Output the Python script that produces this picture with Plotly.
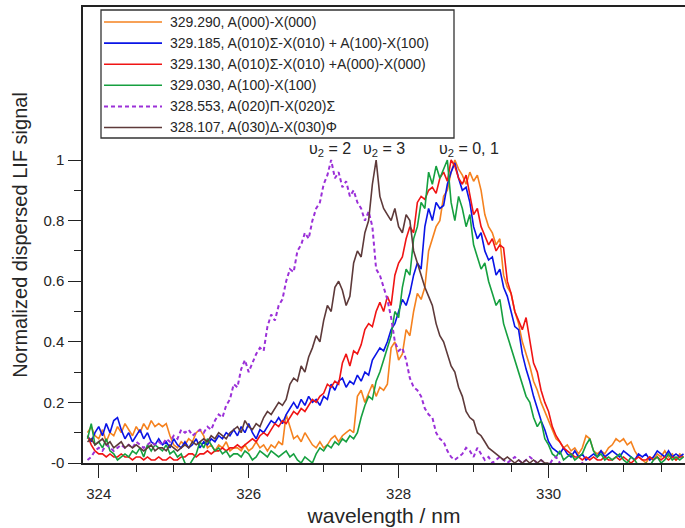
import plotly.graph_objects as go

# wavelength grid (nm), 0.05 nm steps from 323.85 to 331.80
wavelength = [round(323.85 + 0.05 * i, 2) for i in range(160)]

orange_329290 = [
    0.10, 0.12, 0.09, 0.08, 0.11, 0.07, 0.10, 0.09, 0.12, 0.10, 0.13, 0.11, 0.09, 0.12, 0.10, 0.13, 0.11, 0.14, 0.12, 0.13,
    0.12, 0.13, 0.09, 0.06, 0.05, 0.07, 0.06, 0.08, 0.07, 0.10, 0.11, 0.09, 0.05, 0.06, 0.04, 0.06, 0.05, 0.07, 0.04, 0.05,
    0.05, 0.04, 0.06, 0.04, 0.05, 0.07, 0.05, 0.06, 0.04, 0.06, 0.05, 0.07, 0.06, 0.16, 0.12, 0.08, 0.09, 0.07, 0.10, 0.08,
    0.06, 0.05, 0.07, 0.05, 0.06, 0.08, 0.09, 0.07, 0.09, 0.10, 0.11, 0.10, 0.22, 0.24, 0.20, 0.23, 0.26, 0.22, 0.25, 0.24,
    0.26, 0.38, 0.40, 0.34, 0.36, 0.44, 0.42, 0.50, 0.56, 0.54, 0.58, 0.70, 0.74, 0.78, 0.80, 0.88, 0.90, 0.96, 1.00, 0.97,
    0.95, 0.92, 0.96, 0.93, 0.95, 0.90, 0.82, 0.78, 0.76, 0.72, 0.74, 0.62, 0.58, 0.56, 0.50, 0.46, 0.40, 0.36, 0.32, 0.27,
    0.24, 0.20, 0.17, 0.14, 0.11, 0.08, 0.07, 0.05, 0.06, 0.04, 0.05, 0.03, 0.05, 0.09, 0.08, 0.04, 0.03, 0.04, 0.03, 0.05,
    0.06, 0.08, 0.07, 0.08, 0.06, 0.07, 0.04, 0.02, 0.01, 0.00, 0.02, 0.01, 0.03, 0.02, 0.04, 0.02, 0.03, 0.01, 0.03, 0.02,
]

blue_329185 = [
    0.09, 0.07, 0.10, 0.12, 0.09, 0.13, 0.10, 0.14, 0.15, 0.11, 0.08, 0.10, 0.07, 0.09, 0.11, 0.08, 0.10, 0.07, 0.06, 0.08,
    0.06, 0.07, 0.05, 0.08, 0.06, 0.05, 0.07, 0.05, 0.06, 0.08, 0.05, 0.07, 0.06, 0.08, 0.07, 0.09, 0.08, 0.10, 0.09, 0.11,
    0.09, 0.12, 0.10, 0.13, 0.10, 0.08, 0.11, 0.10, 0.12, 0.14, 0.13, 0.15, 0.13, 0.16, 0.18, 0.20, 0.18, 0.21, 0.19, 0.22,
    0.20, 0.21, 0.19, 0.22, 0.21, 0.26, 0.24, 0.27, 0.28, 0.25, 0.27, 0.26, 0.29, 0.27, 0.30, 0.29, 0.34, 0.36, 0.38, 0.37,
    0.40, 0.44, 0.46, 0.50, 0.54, 0.52, 0.56, 0.62, 0.66, 0.64, 0.78, 0.84, 0.80, 0.86, 0.84, 0.85, 0.92, 0.96, 0.99, 0.94,
    0.90, 0.91, 0.86, 0.78, 0.74, 0.76, 0.70, 0.67, 0.68, 0.62, 0.64, 0.58, 0.55, 0.50, 0.45, 0.44, 0.36, 0.31, 0.27, 0.22,
    0.18, 0.14, 0.11, 0.07, 0.05, 0.04, 0.03, 0.05, 0.03, 0.02, 0.04, 0.02, 0.03, 0.01, 0.02, 0.03, 0.02, 0.04, 0.02, 0.03,
    0.04, 0.03, 0.02, 0.04, 0.03, 0.02, 0.01, 0.03, 0.02, 0.03, 0.01, 0.02, 0.04, 0.03, 0.02, 0.04, 0.02, 0.03, 0.02, 0.03,
]

red_329130 = [
    0.09, 0.06, 0.04, 0.03, 0.03, 0.02, 0.03, 0.02, 0.02, 0.03, 0.02, 0.02, 0.01, 0.02, 0.02, 0.01, 0.02, 0.01, 0.01, 0.02,
    0.01, 0.01, 0.02, 0.01, 0.01, 0.02, 0.02, 0.03, 0.03, 0.02, 0.03, 0.03, 0.04, 0.03, 0.04, 0.04, 0.05, 0.04, 0.05, 0.05,
    0.06, 0.05, 0.06, 0.07, 0.08, 0.07, 0.09, 0.10, 0.09, 0.11, 0.13, 0.12, 0.14, 0.13, 0.15, 0.17, 0.16, 0.18, 0.17, 0.19,
    0.21, 0.20, 0.22, 0.23, 0.26, 0.25, 0.27, 0.26, 0.33, 0.36, 0.32, 0.37, 0.36, 0.39, 0.44, 0.46, 0.45, 0.50, 0.53, 0.50,
    0.55, 0.52, 0.62, 0.66, 0.68, 0.74, 0.78, 0.76, 0.86, 0.88, 0.87, 0.90, 0.91, 0.89, 0.94, 0.96, 0.93, 1.00, 0.98, 0.94,
    0.92, 0.95, 0.88, 0.82, 0.84, 0.78, 0.75, 0.72, 0.74, 0.70, 0.72, 0.71, 0.60, 0.56, 0.50, 0.47, 0.44, 0.48, 0.40, 0.33,
    0.30, 0.24, 0.20, 0.17, 0.12, 0.09, 0.07, 0.05, 0.04, 0.03, 0.02, 0.02, 0.01, 0.02, 0.01, 0.02, 0.01, 0.01, 0.02, 0.01,
    0.01, 0.02, 0.01, 0.02, 0.01, 0.00, 0.01, 0.02, 0.01, 0.01, 0.02, 0.01, 0.02, 0.01, 0.02, 0.01, 0.02, 0.01, 0.02, 0.02,
]

green_329030 = [
    0.08, 0.13, 0.06, 0.07, 0.05, 0.08, 0.04, 0.03, 0.01, 0.02, 0.03, 0.02, 0.04, 0.03, 0.05, 0.02, 0.06, 0.04, 0.06, 0.05,
    0.04, 0.06, 0.03, 0.04, 0.02, 0.03, 0.00, -0.01, 0.01, 0.03, 0.07, 0.05, 0.08, 0.06, 0.04, 0.05, 0.03, 0.04, 0.02, 0.03,
    0.03, 0.02, 0.04, 0.03, 0.01, 0.02, 0.04, 0.03, 0.02, 0.04, 0.03, 0.02, 0.03, 0.04, 0.02, 0.03, 0.01, 0.00, 0.02, 0.01,
    0.00, 0.03, 0.05, 0.04, 0.06, 0.05, 0.07, 0.06, 0.08, 0.07, 0.09, 0.08, 0.10, 0.15, 0.19, 0.22, 0.21, 0.27, 0.30, 0.34,
    0.38, 0.42, 0.50, 0.48, 0.58, 0.64, 0.62, 0.74, 0.78, 0.86, 0.84, 0.96, 0.92, 0.98, 0.94, 0.97, 1.00, 0.86, 0.80, 0.88,
    0.84, 0.78, 0.82, 0.72, 0.68, 0.64, 0.66, 0.60, 0.56, 0.52, 0.54, 0.46, 0.42, 0.38, 0.34, 0.30, 0.26, 0.22, 0.20, 0.15,
    0.12, 0.14, 0.08, 0.06, 0.03, 0.02, 0.04, 0.01, 0.02, 0.03, 0.01, 0.02, 0.03, 0.06, 0.08, 0.04, 0.02, 0.03, 0.01, 0.02,
    0.01, 0.02, 0.03, 0.01, 0.00, 0.02, 0.01, -0.01, -0.01, 0.00, -0.01, 0.01, 0.02, 0.00, 0.01, 0.03, 0.01, 0.02, 0.01, 0.02,
]

purple_328553 = [
    0.01, 0.02, 0.04, 0.05, 0.04, 0.06, 0.05, 0.04, 0.05, 0.06, 0.05, 0.06, 0.05, 0.07, 0.06, 0.05, 0.06, 0.07, 0.06, 0.07,
    0.06, 0.08, 0.07, 0.09, 0.08, 0.11, 0.10, 0.11, 0.09, 0.10, 0.11, 0.10, 0.12, 0.11, 0.14, 0.16, 0.15, 0.19, 0.21, 0.26,
    0.25, 0.31, 0.34, 0.30, 0.33, 0.36, 0.38, 0.37, 0.45, 0.49, 0.47, 0.52, 0.54, 0.60, 0.64, 0.63, 0.70, 0.72, 0.76, 0.74,
    0.80, 0.84, 0.86, 0.92, 0.95, 1.00, 0.94, 0.96, 0.91, 0.93, 0.88, 0.90, 0.86, 0.84, 0.80, 0.83, 0.78, 0.64, 0.62, 0.58,
    0.54, 0.48, 0.40, 0.37, 0.38, 0.34, 0.28, 0.25, 0.24, 0.22, 0.18, 0.16, 0.15, 0.10, 0.08, 0.07, 0.04, 0.02, 0.01, 0.02,
    0.03, 0.05, 0.04, 0.02, 0.05, 0.03, 0.01, 0.02, 0.00, 0.01, 0.02, 0.01, 0.00, 0.01, 0.02, 0.01, 0.00, 0.01, 0.02, 0.01,
    0.00, 0.01, 0.00, -0.01, 0.01, 0.02, 0.00, -0.01, -0.02, -0.01, -0.02, -0.01, 0.00, -0.01,
]

brown_328107 = [
    0.07, 0.08, 0.06, 0.07, 0.08, 0.06, 0.07, 0.05, 0.06, 0.07, 0.05, 0.06, 0.05, 0.06, 0.05, 0.04, 0.05, 0.06, 0.04, 0.05,
    0.05, 0.04, 0.06, 0.05, 0.04, 0.05, 0.06, 0.05, 0.07, 0.06, 0.07, 0.08, 0.07, 0.09, 0.08, 0.10, 0.09, 0.08, 0.10, 0.11,
    0.12, 0.10, 0.14, 0.12, 0.11, 0.13, 0.12, 0.15, 0.17, 0.16, 0.18, 0.20, 0.19, 0.21, 0.26, 0.28, 0.27, 0.32, 0.30, 0.35,
    0.38, 0.42, 0.40, 0.47, 0.52, 0.50, 0.58, 0.60, 0.57, 0.52, 0.55, 0.66, 0.70, 0.68, 0.76, 0.80, 0.92, 1.00, 0.88, 0.84,
    0.82, 0.80, 0.84, 0.78, 0.76, 0.82, 0.80, 0.70, 0.66, 0.62, 0.58, 0.55, 0.52, 0.46, 0.42, 0.40, 0.36, 0.32, 0.30, 0.25,
    0.22, 0.17, 0.15, 0.14, 0.10, 0.09, 0.07, 0.05, 0.04, 0.03, 0.02, 0.01, 0.02, 0.01, 0.00, 0.01, 0.00, 0.01, 0.00, 0.01,
    0.00, 0.01, 0.00, 0.00,
]

series_names = [
    "329.290, A(000)-X(000)",
    "329.185, A(010)Σ-X(010) + A(100)-X(100)",
    "329.130, A(010)Σ-X(010) +A(000)-X(000)",
    "329.030, A(100)-X(100)",
    "328.553, A(020)Π-X(020)Σ",
    "328.107, A(030)Δ-X(030)Φ",
]
series_values = [orange_329290, blue_329185, red_329130, green_329030, purple_328553, brown_328107]
series_colors = ["#F5821F", "#0A14E6", "#F01414", "#16A040", "#9B30D8", "#5E3A3A"]
series_dash = ["solid", "solid", "solid", "solid", "4px,3px", "solid"]
series_width = [1.6, 1.6, 1.6, 1.6, 2.0, 1.6]

peak_labels = ["υ<sub>2</sub> = 2", "υ<sub>2</sub> = 3", "υ<sub>2</sub> = 0, 1"]
peak_label_x = [327.08, 327.80, 328.94]

x_major = [324, 326, 328, 330]
x_minor = [324.5, 325, 325.5, 326.5, 327, 327.5, 328.5, 329, 329.5, 330.5, 331, 331.5]
y_major = [0, 0.2, 0.4, 0.6, 0.8, 1.0]
y_major_text = ["-0", "0.2", "0.4", "0.6", "0.8", "1"]
y_minor = [0.1, 0.3, 0.5, 0.7, 0.9]

FONT = "Liberation Sans, Arial, sans-serif"
TXT = "#262626"

# figure geometry (pixels)
W, H = 685, 528
ML, MR, MT, MB = 83, 0, 7, 65
PW, PH = W - ML - MR, H - MT - MB


def px(x):
    return (x - ML) / PW


def py(y):
    return (H - MB - y) / PH


fig = go.Figure()
for name, vals, col, dash, lw in zip(series_names, series_values, series_colors, series_dash, series_width):
    fig.add_trace(go.Scatter(
        x=wavelength[:len(vals)], y=vals, mode="lines", name=name,
        line=dict(color=col, width=lw, dash=dash), showlegend=False,
    ))

# peak labels
for txt, xv in zip(peak_labels, peak_label_x):
    fig.add_annotation(x=xv, y=1.0, xref="x", yref="y", yshift=11, text=txt,
                       showarrow=False, font=dict(size=16, color=TXT, family=FONT),
                       xanchor="center", yanchor="middle")

# legend box drawn as in the original (boxed, long line samples)
LEG_L, LEG_R, LEG_T, LEG_B = 101, 454, 10, 138
fig.add_shape(type="rect", xref="paper", yref="paper",
              x0=px(LEG_L), x1=px(LEG_R), y0=py(LEG_B), y1=py(LEG_T),
              line=dict(color="#333", width=1.3), fillcolor="white", layer="above")
for i, (name, col, dash, lw) in enumerate(zip(series_names, series_colors, series_dash, series_width)):
    yc = 22 + 21.1 * i
    fig.add_shape(type="line", xref="paper", yref="paper",
                  x0=px(104), x1=px(162), y0=py(yc), y1=py(yc),
                  line=dict(color=col, width=lw, dash=dash), layer="above")
    fig.add_annotation(x=px(168), y=py(yc), xref="paper", yref="paper", text=name,
                       showarrow=False, xanchor="left", yanchor="middle",
                       font=dict(size=14, color=TXT, family=FONT))

fig.update_layout(
    width=W, height=H,
    margin=dict(l=ML, r=MR, t=MT, b=MB, autoexpand=False),
    plot_bgcolor="white", paper_bgcolor="white",
    font=dict(family=FONT, color=TXT),
    showlegend=False,
    xaxis=dict(
        range=[323.79, 331.82], automargin=False,
        showline=True, linecolor="#222", linewidth=1.5, mirror=True,
        showgrid=False, zeroline=False,
        ticks="outside", ticklen=13, tickwidth=1.3, tickcolor="#222",
        tickvals=x_major, ticktext=[str(v) for v in x_major],
        tickfont=dict(size=15, color=TXT, family=FONT), ticklabelstandoff=3,
        minor=dict(tickvals=x_minor, ticks="outside", ticklen=7, tickwidth=1.2, tickcolor="#222", showgrid=False),
        title=dict(text="wavelength / nm", font=dict(size=21, color=TXT, family=FONT), standoff=8),
    ),
    yaxis=dict(
        range=[0, 1.505], automargin=False,
        showline=True, linecolor="#222", linewidth=1.5, mirror=False,
        showgrid=False, zeroline=False,
        ticks="outside", ticklen=13, tickwidth=1.3, tickcolor="#222",
        tickvals=y_major, ticktext=y_major_text,
        tickfont=dict(size=15, color=TXT, family=FONT), ticklabelstandoff=1,
        minor=dict(tickvals=y_minor, ticks="outside", ticklen=7, tickwidth=1.2, tickcolor="#222", showgrid=False),
        title=dict(text="Normalized dispersed LIF signal", font=dict(size=20, color=TXT, family=FONT), standoff=10),
    ),
)

# remove the browser's default page margin so the figure sits at the window's top-left corner
fig.write_html("out.html", config={"displayModeBar": False},
               post_script="document.body.style.margin='0px';")
